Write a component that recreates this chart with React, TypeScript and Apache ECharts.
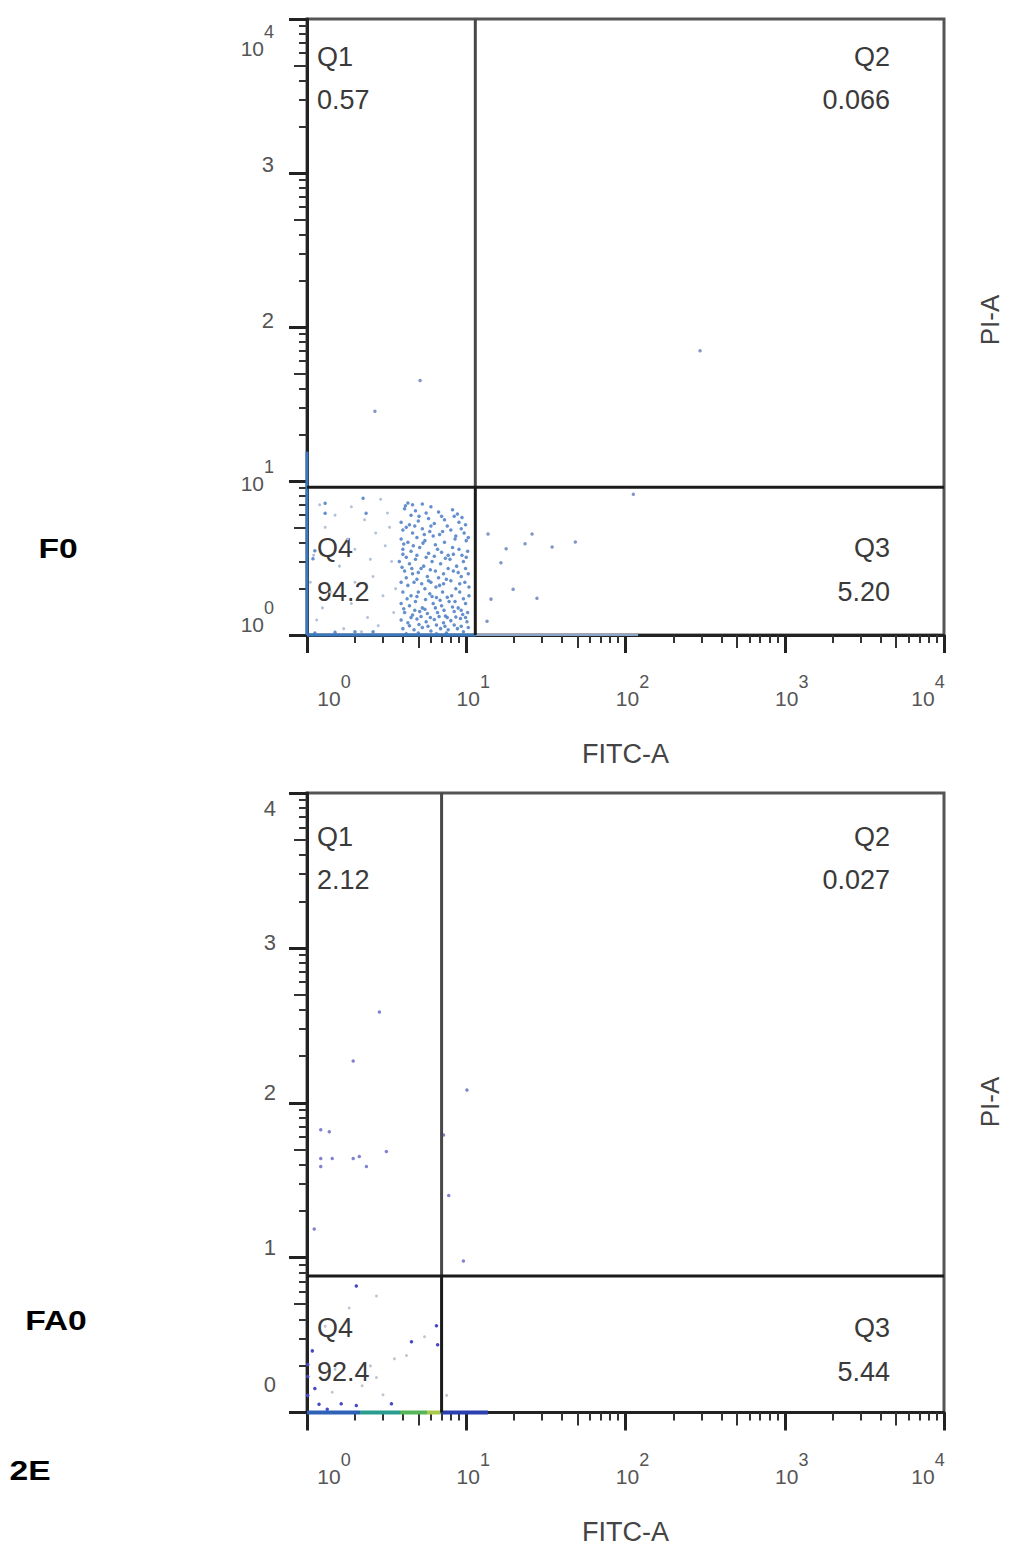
import React, { useEffect, useRef } from "react";
import * as echarts from "echarts";

const FONT = "'Liberation Sans', Arial, Helvetica, sans-serif";

// ---------------- axis ticks & labels ----------------
const decadeTicks = [1, 10, 100, 1000, 10000];
const halfDecadeTicks = [5, 50, 500, 5000];
const minorTicks = [
  2, 3, 4, 6, 7, 8, 9, 20, 30, 40, 60, 70, 80, 90, 200, 300, 400, 600, 700, 800, 900,
  2000, 3000, 4000, 6000, 7000, 8000, 9000,
];
const xTickLabels = ["10^0", "10^1", "10^2", "10^3", "10^4"];
const f0YTickLabels = ["10^0", "10^1", "2", "3", "10^4"];
const fa0YTickLabels = ["0", "1", "2", "3", "4"];
const xAxisTitle = "FITC-A";
const yAxisTitle = "PI-A";
const panelNames = ["F0", "FA0"];
const figureTag = "2E";

// ---------------- panel F0 ----------------
const f0GateX = 11.4;
const f0GateY = 9.1;
const f0QuadrantNames = ["Q1", "Q2", "Q3", "Q4"];
const f0QuadrantValues = ["0.57", "0.066", "5.20", "94.2"];
const f0Q4Dense: [number, number][] = [
  [4.3, 7.2], [4.6, 7.0], [5.3, 7.1],
  [4.1, 6.6], [6.0, 6.8], [8.2, 6.5],
  [4.5, 6.0], [5.6, 6.2], [7.0, 5.9], [8.8, 6.1], [9.4, 5.8],
  [3.9, 5.4], [4.4, 5.2], [5.0, 5.5], [6.3, 5.3], [7.6, 5.1], [9.0, 5.4],
  [4.0, 4.8], [4.6, 4.6], [5.3, 4.9], [5.9, 4.7], [6.8, 4.5], [8.0, 4.8], [9.7, 4.6],
  [3.9, 4.2], [4.3, 4.0], [4.9, 4.3], [5.5, 4.1], [6.2, 4.4], [7.3, 4.0], [8.5, 4.2], [10.0, 4.1],
  [4.0, 3.6], [4.5, 3.5], [5.1, 3.7], [5.8, 3.4], [6.6, 3.6], [7.7, 3.3], [9.0, 3.6], [10.2, 3.5], [4.2, 3.2],
  [3.8, 3.0], [4.4, 2.9], [4.8, 3.1], [5.4, 2.8], [6.1, 3.0], [6.9, 2.9], [7.9, 3.1], [8.7, 2.8], [9.6, 3.0],
  [4.1, 2.6], [4.6, 2.5], [5.2, 2.7], [5.7, 2.4], [6.4, 2.6], [7.2, 2.5], [8.3, 2.6], [9.3, 2.4], [10.3, 2.5],
  [3.9, 2.2], [4.3, 2.1], [4.9, 2.3], [5.5, 2.0], [6.0, 2.2], [6.8, 2.1], [7.5, 2.3], [8.6, 2.0], [9.8, 2.2],
  [4.0, 1.9], [4.5, 1.8], [5.0, 1.9], [5.9, 1.85], [6.5, 1.75], [7.1, 1.9], [8.1, 1.8], [9.1, 1.9], [10.4, 1.8],
  [3.9, 1.6], [4.4, 1.55], [4.8, 1.65], [5.3, 1.5], [6.2, 1.6], [7.0, 1.55], [7.8, 1.65], [8.9, 1.5], [9.9, 1.6],
  [4.1, 1.4], [4.6, 1.35], [5.1, 1.42], [5.7, 1.38], [6.6, 1.4], [7.4, 1.33], [8.4, 1.42], [9.5, 1.36],
  [3.9, 1.25], [4.3, 1.2], [4.9, 1.27], [5.6, 1.22], [6.3, 1.26], [7.2, 1.2], [8.0, 1.24], [9.2, 1.28], [10.1, 1.22],
  [4.0, 1.1], [4.7, 1.08], [5.3, 1.12], [6.0, 1.06], [6.9, 1.1], [7.7, 1.08], [8.8, 1.1], [9.6, 1.05],
  [4.2, 1.02], [5.0, 1.03], [6.5, 1.02], [7.5, 1.03],
  [2.25, 7.72], [1.3, 7.16], [1.3, 6.18], [2.35, 6.18], [1.09, 3.13], [1.12, 3.52],
  [2.6, 1.05], [1.12, 1.03], [2.0, 1.05], [1.5, 1.04],
  [4.15, 6.9], [4.8, 6.4], [5.05, 5.9], [5.8, 5.7], [6.7, 6.3], [7.3, 5.6], [8.4, 5.9], [9.9, 5.2],
  [4.2, 5.0], [4.75, 5.1], [5.45, 4.5], [6.0, 5.1], [7.1, 4.7], [8.6, 4.4], [9.3, 4.9], [10.3, 4.3],
  [4.05, 3.9], [4.65, 3.8], [5.35, 3.95], [6.4, 3.85], [7.0, 3.45], [8.2, 3.7], [9.4, 3.3],
  [4.0, 3.35], [4.9, 3.3], [5.6, 3.2], [6.3, 3.25], [7.4, 3.15], [8.3, 3.35], [10.0, 3.2],
  [3.95, 2.75], [4.55, 2.7], [5.0, 2.55], [5.95, 2.65], [6.7, 2.35], [7.7, 2.7], [8.9, 2.55], [9.9, 2.7],
  [4.2, 2.35], [4.7, 2.2], [5.25, 2.15], [5.8, 2.25], [6.45, 2.05], [7.2, 2.15], [8.0, 2.25], [9.1, 2.15], [10.4, 2.05],
  [4.25, 1.72], [4.9, 1.78], [5.55, 1.7], [6.1, 1.78], [6.85, 1.68], [7.6, 1.76], [8.5, 1.65], [9.6, 1.72],
  [4.05, 1.48], [4.75, 1.45], [5.5, 1.47], [6.4, 1.5], [7.25, 1.45], [8.2, 1.52], [9.3, 1.45], [10.2, 1.4],
  [4.5, 1.3], [5.2, 1.32], [5.95, 1.3], [6.75, 1.32], [7.6, 1.3], [8.6, 1.31], [9.9, 1.3],
  [4.4, 1.15], [5.05, 1.17], [5.75, 1.14], [6.5, 1.16], [7.35, 1.14], [8.4, 1.16], [9.3, 1.14], [10.3, 1.12],
];
const f0Q4Faint: [number, number][] = [
  [1.2, 7.0], [1.5, 6.0], [2.9, 7.6], [1.3, 5.0], [1.8, 4.2], [2.3, 5.6], [3.2, 6.2],
  [1.1, 3.3], [1.6, 2.8], [2.0, 3.6], [2.6, 2.4], [3.4, 3.0], [1.4, 1.9], [1.9, 1.6],
  [2.4, 1.3], [3.0, 1.8], [1.15, 1.25], [1.7, 1.1], [2.2, 1.05], [2.8, 1.15], [3.5, 1.4],
  [1.05, 2.2], [1.25, 1.5], [2.7, 4.6], [3.3, 5.0], [2.0, 2.2], [3.6, 2.0], [1.9, 6.8],
  [2.5, 3.1], [3.1, 3.8],
];
const f0Others: [number, number][] = [
  [2.67, 28.4], [5.13, 45], [294, 70],
  [13.7, 4.53], [25.9, 4.53], [17.8, 3.63], [23.4, 3.91], [34.6, 3.73], [48.4, 4.02],
  [16.5, 2.95], [19.7, 1.98], [14.3, 1.71], [27.8, 1.73], [13.5, 1.23], [112, 8.19],
];
const f0YAxisPileTop = 15.5;
const f0XAxisPile = [1, 11.4, 120];

// ---------------- panel FA0 ----------------
const fa0GateX = 7.0;
const fa0GateY = 7.6;
const fa0QuadrantNames = ["Q1", "Q2", "Q3", "Q4"];
const fa0QuadrantValues = ["2.12", "0.027", "5.44", "92.4"];
const fa0Upper: [number, number][] = [
  [2.85, 385], [1.95, 186], [1.22, 67], [1.38, 65], [1.22, 43.6], [1.44, 43.6],
  [1.22, 38.7], [1.95, 43.6], [2.13, 45], [2.36, 38.7], [3.15, 48.4], [1.11, 15.3],
  [10.1, 121], [7.76, 25.2], [7.2, 62], [9.6, 9.5],
];
const fa0Q4Dark: [number, number][] = [
  [2.04, 6.56], [6.5, 3.63], [4.53, 2.86], [6.61, 2.74], [1.08, 2.5], [1.01, 2.04],
  [1.01, 1.71], [1.12, 1.43], [1.01, 1.29], [3.39, 1.14], [1.64, 1.14], [2.04, 1.11],
  [1.19, 1.13], [1.34, 1.05],
];
const fa0Q4Faint: [number, number][] = [
  [2.73, 5.65], [1.84, 4.73], [5.47, 3.08], [4.21, 2.33], [3.54, 2.22], [2.22, 1.49],
  [1.44, 1.35], [2.73, 1.68], [1.3, 3.6], [1.5, 1.9], [2.5, 2.0], [3.0, 1.3], [7.53, 1.29],
];
// events piled on the FITC axis (breakpoints along x)
const fa0XAxisPile = [1, 2.15, 3.84, 5.67, 6.93, 13.7];

// ---------------- styles / layout (not data) ----------------
const pileColors = ["#2d62b8", "#2a9d8f", "#56b45a", "#a9c94a", "#2b3fae"];
const f0YShift = [-18, -5, -7, -9, 22];
const fa0YShift = [-28, -10, -10, -5, 15];
const GRID_LEFT = 307;
const GRID_W = 637;
const GRID_H = 622;
const GRID_TOPS = [13, 793];

function buildRich() {
  const rich: Record<string, any> = {
    b: { fontSize: 21, lineHeight: 36, verticalAlign: "bottom", color: "#555", fontFamily: FONT },
    s: { fontSize: 18, lineHeight: 36, verticalAlign: "top", color: "#555", fontFamily: FONT },
    bx0: { fontSize: 21, lineHeight: 36, verticalAlign: "bottom", color: "#555", fontFamily: FONT, padding: [0, 0, 0, 54] },
    bx: { fontSize: 21, lineHeight: 36, verticalAlign: "bottom", color: "#555", fontFamily: FONT, padding: [0, 0, 0, 14] },
    sx4: { fontSize: 18, lineHeight: 36, verticalAlign: "top", color: "#555", fontFamily: FONT, padding: [0, 46, 0, 0] },
    d: { fontSize: 22, lineHeight: 26, color: "#555", fontFamily: FONT },
  };
  [...f0YShift, ...fa0YShift].forEach((s) => {
    const n = Math.abs(s) * 2;
    if (n > 0) rich["sp" + n] = { fontSize: 2, lineHeight: n };
  });
  return rich;
}
const RICH = buildRich();

function expIndex(v: any) {
  return Math.round(Math.log10(Number(v)));
}

function xLabelFormatter(v: any) {
  const i = expIndex(v);
  const text = xTickLabels[i] || "";
  const exp = text.split("^")[1];
  const bStyle = i === 0 ? "bx0" : "bx";
  const sStyle = i === 4 ? "sx4" : "s";
  return `{${bStyle}|10}{${sStyle}|${exp}}`;
}

function yLabelFormatter(labels: string[], shifts: number[]) {
  return (v: any) => {
    const i = expIndex(v);
    const text = labels[i] || "";
    const body = text.includes("^") ? `{b|10}{s|${text.split("^")[1]}}` : `{d|${text}}`;
    const s = shifts[i] || 0;
    const n = Math.abs(s) * 2;
    if (s > 0) return `{sp${n}| }\n${body}`;
    if (s < 0) return `${body}\n{sp${n}| }`;
    return body;
  };
}

function xAxes(grid: number) {
  const base = {
    type: "log",
    logBase: 10,
    min: 1,
    max: 10000,
    gridIndex: grid,
    position: "bottom",
    splitLine: { show: false },
    axisLine: { show: false, onZero: false },
    axisLabel: { show: false },
  };
  return [
    {
      ...base,
      axisLine: { show: true, onZero: false, lineStyle: { color: "#222", width: 3 } },
      axisTick: { show: true, length: 18, customValues: decadeTicks, lineStyle: { color: "#222", width: 3 } },
      axisLabel: { show: true, customValues: decadeTicks, margin: 38, formatter: xLabelFormatter, rich: RICH },
      name: xAxisTitle,
      nameLocation: "middle",
      nameGap: 119,
      nameTextStyle: { fontSize: 27, color: "#444", fontFamily: FONT, verticalAlign: "middle" },
    },
    { ...base, axisTick: { show: true, length: 13, customValues: halfDecadeTicks, lineStyle: { color: "#333", width: 2 } } },
    { ...base, axisTick: { show: true, length: 8, customValues: minorTicks, lineStyle: { color: "#333", width: 2 } } },
  ];
}

function yAxes(grid: number, labels: string[], shifts: number[], margin: number) {
  const base = {
    type: "log",
    logBase: 10,
    min: 1,
    max: 10000,
    gridIndex: grid,
    position: "left",
    splitLine: { show: false },
    axisLine: { show: false, onZero: false },
    axisLabel: { show: false },
  };
  return [
    {
      ...base,
      axisLine: { show: true, onZero: false, lineStyle: { color: "#222", width: 3 } },
      axisTick: { show: true, length: 18, customValues: decadeTicks, lineStyle: { color: "#222", width: 3 } },
      axisLabel: { show: true, customValues: decadeTicks, margin, formatter: yLabelFormatter(labels, shifts), rich: RICH },
    },
    { ...base, axisTick: { show: true, length: 13, customValues: halfDecadeTicks, lineStyle: { color: "#333", width: 2 } } },
    { ...base, axisTick: { show: true, length: 8, customValues: minorTicks, lineStyle: { color: "#333", width: 2 } } },
  ];
}

function scatter(data: [number, number][], ax: number, color: string, size: number, opacity = 1) {
  return {
    type: "scatter",
    data,
    xAxisIndex: ax,
    yAxisIndex: ax,
    symbol: "circle",
    symbolSize: size,
    itemStyle: { color, opacity },
    silent: true,
    z: 2,
  };
}

function seg(data: [number, number][], ax: number, color: string, width: number, z = 4) {
  return {
    type: "line",
    data,
    xAxisIndex: ax,
    yAxisIndex: ax,
    symbol: "none",
    lineStyle: { color, width },
    silent: true,
    clip: false,
    z,
  };
}

function gates(gx: number, gy: number, ax: number) {
  return [
    seg([[gx, gy], [gx, 10000]], ax, "#484848", 3),
    seg([[gx, 1], [gx, gy]], ax, "#1a1a1a", 3, 5),
    seg([[1, gy], [10000, gy]], ax, "#1a1a1a", 3, 5),
  ];
}

function quadrantTexts(top: number, names: string[], values: string[]) {
  const style = (text: string, x: number, y: number, align: string) => ({
    type: "text",
    x,
    y,
    silent: true,
    style: { text, font: `27px ${FONT}`, fill: "#3a3a3a", align, verticalAlign: "middle" },
  });
  const L = GRID_LEFT + 10;
  const R = GRID_LEFT + GRID_W - 54;
  return [
    style(names[0], L, top + 44, "left"),
    style(values[0], L, top + 87, "left"),
    style(names[1], R, top + 44, "right"),
    style(values[1], R, top + 87, "right"),
    style(names[2], R, top + 535, "right"),
    style(values[2], R, top + 579, "right"),
    style(names[3], L, top + 535, "left"),
    style(values[3], L, top + 579, "left"),
  ];
}

function buildOption() {
  const series: any[] = [];
  // panel F0 (axes index 0)
  series.push(scatter(f0Q4Faint, 0, "#b4c2d8", 3));
  series.push(scatter(f0Q4Dense, 0, "#4a7cc4", 3.5, 0.85));
  series.push(scatter(f0Others, 0, "#7f98c6", 3.5));
  series.push(seg([[1, 1], [1, f0YAxisPileTop]], 0, "#3a78c0", 3, 3));
  series.push(seg([[f0XAxisPile[0], 1], [f0XAxisPile[1], 1]], 0, "#3a78c0", 3, 3));
  series.push(seg([[f0XAxisPile[1], 1], [f0XAxisPile[2], 1]], 0, "#8aa4cc", 2, 3));
  series.push(...gates(f0GateX, f0GateY, 0));
  // panel FA0 (axes index 3)
  series.push(scatter(fa0Q4Faint, 3, "#c4c4d2", 3));
  series.push(scatter(fa0Upper, 3, "#8282d2", 3.5));
  series.push(scatter(fa0Q4Dark, 3, "#4848c4", 3.5));
  for (let i = 0; i < fa0XAxisPile.length - 1; i++) {
    series.push(seg([[fa0XAxisPile[i], 1], [fa0XAxisPile[i + 1], 1]], 3, pileColors[i], 4, 3));
  }
  series.push(...gates(fa0GateX, fa0GateY, 3));

  const grids = GRID_TOPS.map((top) => ({
    left: GRID_LEFT,
    top,
    width: GRID_W,
    height: GRID_H,
    show: true,
    borderColor: "#555",
    borderWidth: 3,
    backgroundColor: "transparent",
  }));

  const graphicEls: any[] = [
    ...quadrantTexts(GRID_TOPS[0], f0QuadrantNames, f0QuadrantValues),
    ...quadrantTexts(GRID_TOPS[1], fa0QuadrantNames, fa0QuadrantValues),
    {
      type: "text",
      x: 990,
      y: 320,
      rotation: Math.PI / 2,
      silent: true,
      style: { text: yAxisTitle, font: `26px ${FONT}`, fill: "#444", align: "center", verticalAlign: "middle" },
    },
    {
      type: "text",
      x: 990,
      y: 1102,
      rotation: Math.PI / 2,
      silent: true,
      style: { text: yAxisTitle, font: `26px ${FONT}`, fill: "#444", align: "center", verticalAlign: "middle" },
    },
    {
      type: "text",
      x: 58,
      y: 548,
      scaleX: 1.2,
      silent: true,
      style: { text: panelNames[0], font: `bold 28px ${FONT}`, fill: "#000", align: "center", verticalAlign: "middle" },
    },
    {
      type: "text",
      x: 56,
      y: 1320,
      scaleX: 1.2,
      silent: true,
      style: { text: panelNames[1], font: `bold 28px ${FONT}`, fill: "#000", align: "center", verticalAlign: "middle" },
    },
    {
      type: "text",
      x: 30,
      y: 1470,
      scaleX: 1.2,
      silent: true,
      style: { text: figureTag, font: `bold 28px ${FONT}`, fill: "#000", align: "center", verticalAlign: "middle" },
    },
  ];

  return {
    animation: false,
    backgroundColor: "#ffffff",
    textStyle: { fontFamily: FONT },
    grid: grids,
    xAxis: [...xAxes(0), ...xAxes(1)],
    yAxis: [...yAxes(0, f0YTickLabels, f0YShift, 33), ...yAxes(1, fa0YTickLabels, fa0YShift, 31)],
    series,
    graphic: { elements: graphicEls },
  };
}

export default function App() {
  const ref = useRef<HTMLDivElement>(null);
  useEffect(() => {
    if (!ref.current) return;
    const chart = echarts.init(ref.current, undefined, { renderer: "svg" });
    chart.setOption(buildOption() as any);
    return () => chart.dispose();
  }, []);
  return (
    <div
      ref={ref}
      style={{ position: "absolute", left: 0, top: 0, width: 1012, height: 1546, background: "#fff" }}
    />
  );
}
